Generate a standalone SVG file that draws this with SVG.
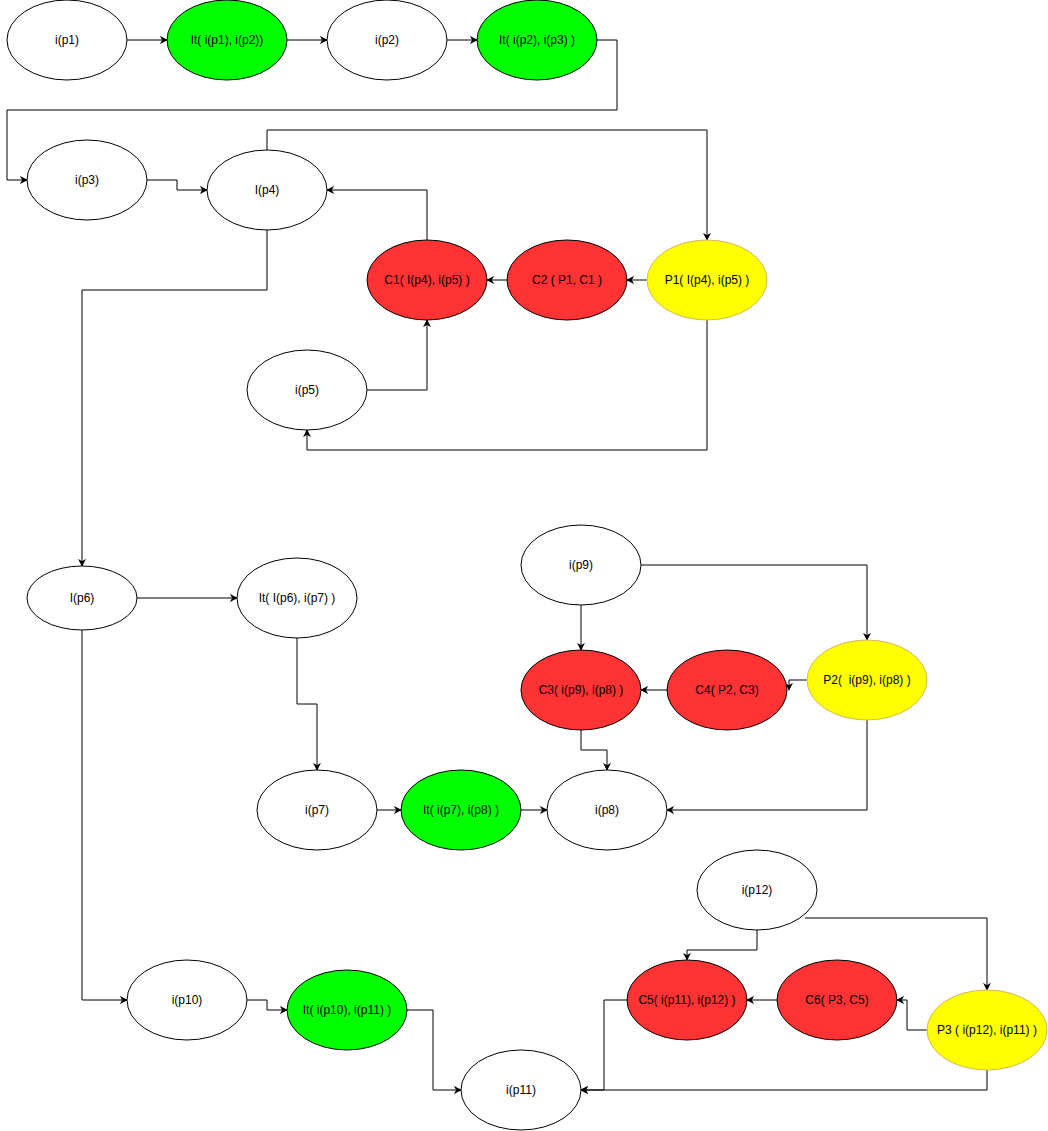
<svg xmlns="http://www.w3.org/2000/svg" width="1048" height="1131" viewBox="0 0 1048 1131">
<defs>
<marker id="ah" viewBox="0 0 10 10" refX="9" refY="5" markerWidth="8" markerHeight="8" markerUnits="userSpaceOnUse" orient="auto">
<path d="M0,0 L10,5 L0,10 L3,5 Z" fill="#000"/>
</marker>
<style>
.w{fill:#fff;stroke:#000;stroke-width:1}
.g{fill:#00ff00;stroke:#000;stroke-width:1}
.r{fill:#ff3333;stroke:#000;stroke-width:1}
.y{fill:#ffff00;stroke:#d6b656;stroke-width:1}
text{font-family:"Liberation Sans",Arial,sans-serif;font-size:12px;text-anchor:middle;dominant-baseline:central;fill:#000}
.e{fill:none;stroke:#000;stroke-width:1;marker-end:url(#ah)}
</style>
</defs>
<rect width="1048" height="1131" fill="#fff"/>
<g id="connectors">
<path class="e" d="M127,40 H167"/>
<path class="e" d="M287,40 H327"/>
<path class="e" d="M447,40 H477"/>
<path class="e" d="M597,40 H617 V110 H7 V180 H27"/>
<path class="e" d="M147,180 H177 V190 H207"/>
<path class="e" d="M267,150 V130 H707 V240"/>
<path class="e" d="M647,280 H627"/>
<path class="e" d="M507,280 H487"/>
<path class="e" d="M427,240 V190 H327"/>
<path class="e" d="M367,390 H427 V320"/>
<path class="e" d="M707,320 V450 H307 V430"/>
<path class="e" d="M267,230 V290 H82 V566"/>
<path class="e" d="M137,598 H237"/>
<path class="e" d="M297,638 V704 H317 V770"/>
<path class="e" d="M377,810 H401"/>
<path class="e" d="M521,810 H547"/>
<path class="e" d="M581,605 V650"/>
<path class="e" d="M641,565 H867 V640"/>
<path class="e" d="M807,680 H789 V690"/>
<path class="e" d="M667,690 H641"/>
<path class="e" d="M581,730 V750 H607 V770"/>
<path class="e" d="M867,720 V810 H667"/>
<path class="e" d="M82,630 V1000 H127"/>
<path class="e" d="M247,1000 H267 V1010 H287"/>
<path class="e" d="M407,1010 H433 V1090 H461"/>
<path class="e" d="M757,930 V950 H687 V960"/>
<path class="e" d="M805,918 H987 V990"/>
<path class="e" d="M927,1030 H907 V1000 H897"/>
<path class="e" d="M777,1000 H747"/>
<path class="e" d="M987,1070 V1090 H581"/>
<path class="e" d="M627,1000 H604 V1090 H581"/>
</g>
<g id="n-ip1"><ellipse class="w" cx="67" cy="40" rx="60" ry="40"/><text x="67" y="40">i(p1)</text></g>
<g id="n-it12"><ellipse class="g" cx="227" cy="40" rx="60" ry="40"/><text x="227" y="40">It( i(p1), i(p2))</text></g>
<g id="n-ip2"><ellipse class="w" cx="387" cy="40" rx="60" ry="40"/><text x="387" y="40">i(p2)</text></g>
<g id="n-it23"><ellipse class="g" cx="537" cy="40" rx="60" ry="40"/><text x="537" y="40">It( i(p2), i(p3) )</text></g>
<g id="n-ip3"><ellipse class="w" cx="87" cy="180" rx="60" ry="40"/><text x="87" y="180">i(p3)</text></g>
<g id="n-ip4"><ellipse class="w" cx="267" cy="190" rx="60" ry="40"/><text x="267" y="190">I(p4)</text></g>
<g id="n-p1"><ellipse class="y" cx="707" cy="280" rx="60" ry="40"/><text x="707" y="280">P1( I(p4), i(p5) )</text></g>
<g id="n-c2"><ellipse class="r" cx="567" cy="280" rx="60" ry="40"/><text x="567" y="280">C2 ( P1, C1 )</text></g>
<g id="n-c1"><ellipse class="r" cx="427" cy="280" rx="60" ry="40"/><text x="427" y="280">C1( I(p4), i(p5) )</text></g>
<g id="n-ip5"><ellipse class="w" cx="307" cy="390" rx="60" ry="40"/><text x="307" y="390">i(p5)</text></g>
<g id="n-ip6"><ellipse class="w" cx="82" cy="598" rx="55" ry="32"/><text x="82" y="598">I(p6)</text></g>
<g id="n-it67"><ellipse class="w" cx="297" cy="598" rx="60" ry="40"/><text x="297" y="598">It( I(p6), i(p7) )</text></g>
<g id="n-ip7"><ellipse class="w" cx="317" cy="810" rx="60" ry="40"/><text x="317" y="810">i(p7)</text></g>
<g id="n-it78"><ellipse class="g" cx="461" cy="810" rx="60" ry="40"/><text x="461" y="810">It( i(p7), i(p8) )</text></g>
<g id="n-ip8"><ellipse class="w" cx="607" cy="810" rx="60" ry="40"/><text x="607" y="810">i(p8)</text></g>
<g id="n-ip9"><ellipse class="w" cx="581" cy="565" rx="60" ry="40"/><text x="581" y="565">i(p9)</text></g>
<g id="n-c3"><ellipse class="r" cx="581" cy="690" rx="60" ry="40"/><text x="581" y="690">C3( i(p9), i(p8) )</text></g>
<g id="n-c4"><ellipse class="r" cx="727" cy="690" rx="60" ry="40"/><text x="727" y="690">C4( P2, C3)</text></g>
<g id="n-p2"><ellipse class="y" cx="867" cy="680" rx="60" ry="40"/><text x="867" y="680" xml:space="preserve">P2(  i(p9), i(p8) )</text></g>
<g id="n-ip10"><ellipse class="w" cx="187" cy="1000" rx="60" ry="40"/><text x="187" y="1000">i(p10)</text></g>
<g id="n-it1011"><ellipse class="g" cx="347" cy="1010" rx="60" ry="40"/><text x="347" y="1010">It( i(p10), i(p11) )</text></g>
<g id="n-ip11"><ellipse class="w" cx="521" cy="1090" rx="60" ry="40"/><text x="521" y="1090">i(p11)</text></g>
<g id="n-ip12"><ellipse class="w" cx="757" cy="890" rx="60" ry="40"/><text x="757" y="890">i(p12)</text></g>
<g id="n-c5"><ellipse class="r" cx="687" cy="1000" rx="60" ry="40"/><text x="687" y="1000">C5( i(p11), i(p12) )</text></g>
<g id="n-c6"><ellipse class="r" cx="837" cy="1000" rx="60" ry="40"/><text x="837" y="1000">C6( P3, C5)</text></g>
<g id="n-p3"><ellipse class="y" cx="987" cy="1030" rx="60" ry="40"/><text x="987" y="1030">P3 ( i(p12), i(p11) )</text></g>
</svg>
